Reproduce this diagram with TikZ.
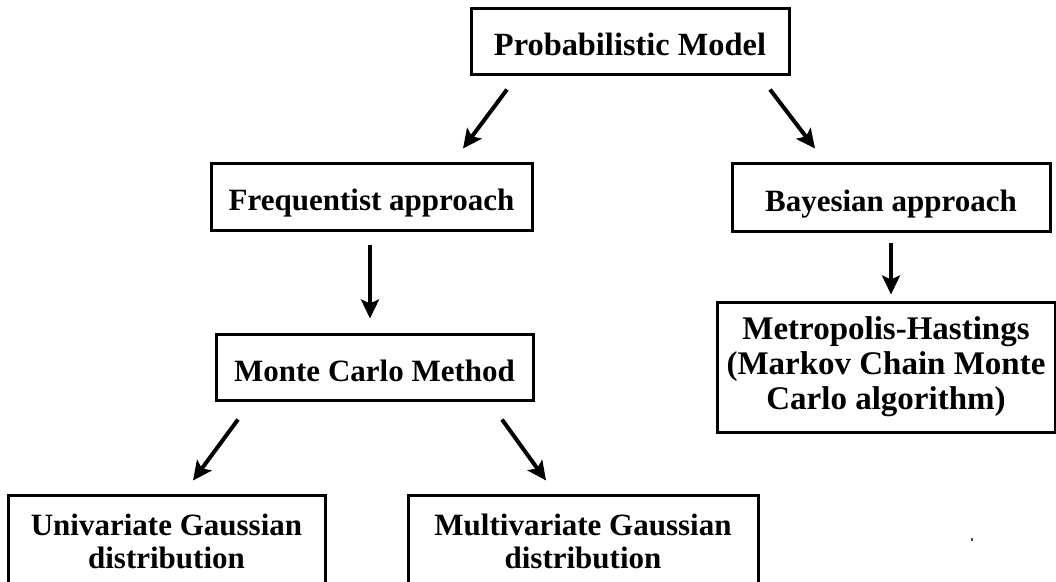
\documentclass[tikz,border=0pt]{standalone}
\usepackage{fontspec}
\setmainfont{Liberation Serif}
\usetikzlibrary{arrows.meta,calc}
\begin{document}
\begin{tikzpicture}[x=1pt,y=-1pt,
  mbox/.style={draw=black, line width=3pt, fill=white, inner sep=0pt, align=center,
    font=\fontsize{31}{33}\selectfont\bfseries},
  box/.style={mbox, text height=28pt, text depth=0pt},
  arr/.style={line width=4pt, -{Stealth[length=19pt,width=18pt,inset=4pt]}}]
\useasboundingbox (0,0) rectangle (1056,581);
\clip (0,0) rectangle (1056,581);
\fill[white] (0,0) rectangle (1056,581);

\node[box, minimum width=318pt, minimum height=66pt,
  font=\fontsize{32.4}{35}\selectfont\bfseries] (pm) at (630,41) {Probabilistic Model};
\node[box, minimum width=321pt, minimum height=67pt] (freq) at (371.5,196.5) {Frequentist approach};
\node[box, minimum width=318pt, minimum height=68pt] (bayes) at (891,197) {Bayesian approach};
\node[box, minimum width=317pt, minimum height=66pt] (mc) at (374.5,367) {Monte Carlo Method};
\node[mbox, minimum width=338pt, minimum height=130pt,
  font=\fontsize{33}{35}\selectfont\bfseries] (mh) at (886,367)
  {Metropolis-Hastings\\(Markov Chain Monte\\Carlo algorithm)};
\node[mbox, minimum width=317pt, minimum height=92pt] (uni) at (166.5,541)
  {Univariate Gaussian\\distribution};
\node[mbox, minimum width=350pt, minimum height=92pt] (multi) at (583,541)
  {Multivariate Gaussian\\distribution};

\draw[arr] ($(pm.south)+(-123,14)$) -- ($(freq.north)+(91.5,-13)$);
\draw[arr] ($(pm.south)+(140,14)$) -- ($(bayes.north)+(-76,-13)$);
\draw[arr] ($(freq.south)+(-1.5,13)$) -- ($(mc.north)+(-4.5,-14)$);
\draw[arr] ($(bayes.south)+(0,10)$) -- ($(mh.north)+(5,-6)$);
\draw[arr] ($(mc.south)+(-136.5,18)$) -- ($(uni.north)+(26.5,-13)$);
\draw[arr] ($(mc.south)+(127.5,18)$) -- ($(multi.north)+(-37,-13)$);

\fill[black!70] (971,538) rectangle (973,541);
\end{tikzpicture}
\end{document}
